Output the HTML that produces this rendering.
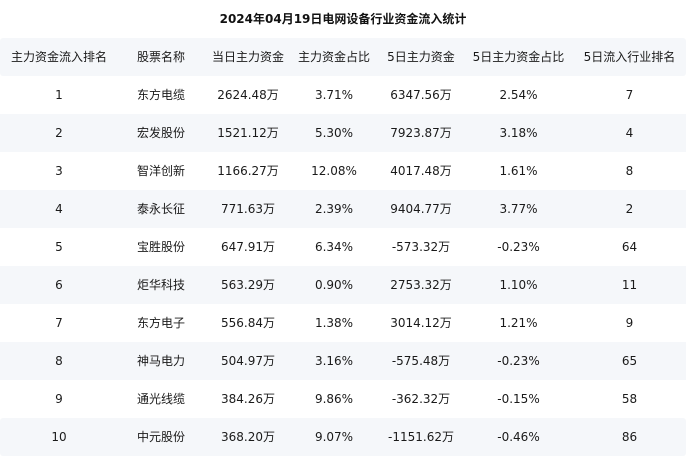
<!DOCTYPE html>
<html><head><meta charset="utf-8">
<style>
html,body{margin:0;padding:0;background:#fff;}
body{width:686px;height:448px;overflow:hidden;position:relative;font-family:"DejaVu Sans","Noto Sans CJK SC",sans-serif;color:#1a1a1a;}
.title{position:absolute;left:0;width:686px;top:10px;height:18px;line-height:18px;text-align:center;font-weight:bold;font-size:12px;color:#111;}
.row{position:absolute;left:0;width:686px;height:38px;}
.s{background:#f5f7fa;}
.c{position:absolute;top:0;height:38px;line-height:38px;text-align:center;font-size:12px;white-space:nowrap;}
.c1{left:0;width:118px}
.c2{left:118px;width:86px}
.c3{left:204px;width:88px}
.c4{left:292px;width:84px}
.c5{left:376px;width:90px}
.c6{left:466px;width:105px}
.c7{left:571px;width:117px}
</style></head><body>
<div class="title">2024年04月19日电网设备行业资金流入统计</div>

<div class="row s" style="top:38px;border-radius:3px"><div class="c c1">主力资金流入排名</div><div class="c c2">股票名称</div><div class="c c3">当日主力资金</div><div class="c c4">主力资金占比</div><div class="c c5">5日主力资金</div><div class="c c6">5日主力资金占比</div><div class="c c7">5日流入行业排名</div></div>

<div class="row" style="top:76px"><div class="c c1">1</div><div class="c c2">东方电缆</div><div class="c c3">2624.48万</div><div class="c c4">3.71%</div><div class="c c5">6347.56万</div><div class="c c6">2.54%</div><div class="c c7">7</div></div>

<div class="row s" style="top:114px"><div class="c c1">2</div><div class="c c2">宏发股份</div><div class="c c3">1521.12万</div><div class="c c4">5.30%</div><div class="c c5">7923.87万</div><div class="c c6">3.18%</div><div class="c c7">4</div></div>

<div class="row" style="top:152px"><div class="c c1">3</div><div class="c c2">智洋创新</div><div class="c c3">1166.27万</div><div class="c c4">12.08%</div><div class="c c5">4017.48万</div><div class="c c6">1.61%</div><div class="c c7">8</div></div>

<div class="row s" style="top:190px"><div class="c c1">4</div><div class="c c2">泰永长征</div><div class="c c3">771.63万</div><div class="c c4">2.39%</div><div class="c c5">9404.77万</div><div class="c c6">3.77%</div><div class="c c7">2</div></div>

<div class="row" style="top:228px"><div class="c c1">5</div><div class="c c2">宝胜股份</div><div class="c c3">647.91万</div><div class="c c4">6.34%</div><div class="c c5">-573.32万</div><div class="c c6">-0.23%</div><div class="c c7">64</div></div>

<div class="row s" style="top:266px"><div class="c c1">6</div><div class="c c2">炬华科技</div><div class="c c3">563.29万</div><div class="c c4">0.90%</div><div class="c c5">2753.32万</div><div class="c c6">1.10%</div><div class="c c7">11</div></div>

<div class="row" style="top:304px"><div class="c c1">7</div><div class="c c2">东方电子</div><div class="c c3">556.84万</div><div class="c c4">1.38%</div><div class="c c5">3014.12万</div><div class="c c6">1.21%</div><div class="c c7">9</div></div>

<div class="row s" style="top:342px"><div class="c c1">8</div><div class="c c2">神马电力</div><div class="c c3">504.97万</div><div class="c c4">3.16%</div><div class="c c5">-575.48万</div><div class="c c6">-0.23%</div><div class="c c7">65</div></div>

<div class="row" style="top:380px"><div class="c c1">9</div><div class="c c2">通光线缆</div><div class="c c3">384.26万</div><div class="c c4">9.86%</div><div class="c c5">-362.32万</div><div class="c c6">-0.15%</div><div class="c c7">58</div></div>

<div class="row s" style="top:418px;border-radius:3px"><div class="c c1">10</div><div class="c c2">中元股份</div><div class="c c3">368.20万</div><div class="c c4">9.07%</div><div class="c c5">-1151.62万</div><div class="c c6">-0.46%</div><div class="c c7">86</div></div>
</body></html>
